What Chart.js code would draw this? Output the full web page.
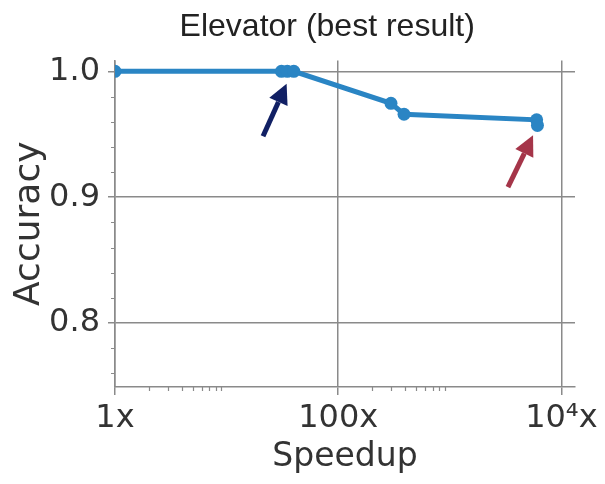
<!DOCTYPE html>
<html>
<head>
<meta charset="utf-8">
<script src="https://cdn.jsdelivr.net/npm/chart.js@4"></script>
<style>
  html, body { margin: 0; padding: 0; background: #fff; }
  #wrap { width: 605px; height: 484px; }
</style>
</head>
<body>
<div id="wrap"><canvas id="grafico" width="605" height="484"></canvas></div>
<script>
// valores
const speedups = [1, 31, 35, 40, 297, 389, 6000, 6100];
const accuracies = [1.0, 1.0, 1.0, 1.0, 0.9746, 0.9659, 0.9615, 0.957];

const xTickValues = [1, 100, 10000];
const xTickLabels = ['1x', '100x', '10⁴x'];
const xMinorTicks = [2, 3, 4, 5, 6, 7, 8, 9, 200, 300, 400, 500, 600, 700, 800, 900];

const yTickValues = [0.8, 0.9, 1.0];
const yTickLabels = ['0.8', '0.9', '1.0'];
const yMinorTicks = [0.76, 0.78, 0.82, 0.84, 0.86, 0.88, 0.92, 0.94, 0.96, 0.98];

// setas (em coordenadas dos dados)
const arrows = [
  { from: [21.2, 0.9484], to: [34.5, 0.9902], color: '#112064' },
  { from: [3320, 0.908], to: [5570, 0.9492], color: '#a53549' }
];

const gridColor = '#8a8a8a';

const minorTicksPlugin = {
  id: 'minorTicks',
  afterDraw(chart) {
    const { ctx, chartArea, scales: { x, y } } = chart;
    ctx.save();
    ctx.strokeStyle = gridColor;
    ctx.lineWidth = 1.2;
    ctx.beginPath();
    xMinorTicks.forEach(v => {
      const px = Math.round(x.getPixelForValue(v)) + 0.5;
      ctx.moveTo(px, chartArea.bottom);
      ctx.lineTo(px, chartArea.bottom + 4);
    });
    yMinorTicks.forEach(v => {
      const py = Math.round(y.getPixelForValue(v)) + 0.5;
      ctx.moveTo(chartArea.left - 4, py);
      ctx.lineTo(chartArea.left, py);
    });
    ctx.stroke();
    ctx.restore();
  }
};

const arrowsPlugin = {
  id: 'arrows',
  afterDatasetsDraw(chart) {
    const { ctx, scales: { x, y } } = chart;
    arrows.forEach(a => {
      const x1 = x.getPixelForValue(a.from[0]), y1 = y.getPixelForValue(a.from[1]);
      const x2 = x.getPixelForValue(a.to[0]), y2 = y.getPixelForValue(a.to[1]);
      const ang = Math.atan2(y2 - y1, x2 - x1);
      const headLen = 20, headW = 10;
      const bx = x2 - headLen * Math.cos(ang), by = y2 - headLen * Math.sin(ang);
      ctx.save();
      ctx.strokeStyle = a.color;
      ctx.fillStyle = a.color;
      ctx.lineWidth = 5;
      ctx.beginPath();
      ctx.moveTo(x1, y1);
      ctx.lineTo(bx, by);
      ctx.stroke();
      ctx.beginPath();
      ctx.moveTo(x2, y2);
      ctx.lineTo(bx + headW * Math.sin(ang), by - headW * Math.cos(ang));
      ctx.lineTo(bx - headW * Math.sin(ang), by + headW * Math.cos(ang));
      ctx.closePath();
      ctx.fill();
      ctx.restore();
    });
  }
};

const ctx = document.getElementById('grafico').getContext('2d');
new Chart(ctx, {
  type: 'line',
  data: {
    datasets: [{
      data: speedups.map((s, i) => ({ x: s, y: accuracies[i] })),
      borderColor: '#2a85c4',
      backgroundColor: '#2a85c4',
      borderWidth: 5,
      pointRadius: 6.5,
      pointBorderWidth: 0,
      tension: 0,
      clip: 0
    }]
  },
  options: {
    responsive: false,
    animation: false,
    layout: { padding: { left: 8, right: 30, top: 0, bottom: 0 } },
    plugins: {
      legend: { display: false },
      tooltip: { enabled: false },
      title: {
        display: true,
        // espaços no fim deslocam o título um pouco para a esquerda
        text: 'Elevator (best result)    ',
        fullSize: false,
        color: '#222',
        font: { family: 'Liberation Sans', size: 32, weight: 'normal', lineHeight: 1.2 },
        padding: { top: 8, bottom: 14 }
      }
    },
    scales: {
      x: {
        type: 'logarithmic',
        min: 1,
        max: 13240,
        afterBuildTicks: scale => { scale.ticks = xTickValues.map(v => ({ value: v })); },
        afterFit: scale => { scale.height = 97; },
        ticks: {
          autoSkip: false,
          maxRotation: 0,
          padding: 4,
          color: '#333',
          font: { family: 'DejaVu Sans', size: 32 },
          callback: (v, i) => xTickLabels[i]
        },
        grid: { color: gridColor, lineWidth: 1.5, tickLength: 8, tickColor: gridColor },
        border: { color: gridColor, width: 1.5 },
        title: {
          display: true,
          text: 'Speedup',
          color: '#333',
          font: { family: 'DejaVu Sans', size: 33, lineHeight: 1.2 },
          padding: { top: 0, bottom: 7 }
        }
      },
      y: {
        min: 0.7492,
        max: 1.0087,
        afterBuildTicks: scale => { scale.ticks = yTickValues.map(v => ({ value: v })); },
        afterFit: scale => { scale.width = 107; },
        ticks: {
          padding: 8,
          color: '#333',
          font: { family: 'DejaVu Sans', size: 32 },
          callback: (v, i) => yTickLabels[i]
        },
        grid: { color: gridColor, lineWidth: 1.5, tickLength: 7, tickColor: gridColor },
        border: { color: gridColor, width: 1.5 },
        title: {
          display: true,
          text: 'Accuracy',
          color: '#333',
          font: { family: 'DejaVu Sans', size: 36, lineHeight: 1.2 },
          padding: { top: 0, bottom: 0 }
        }
      }
    }
  },
  plugins: [minorTicksPlugin, arrowsPlugin]
});
</script>
</body>
</html>
